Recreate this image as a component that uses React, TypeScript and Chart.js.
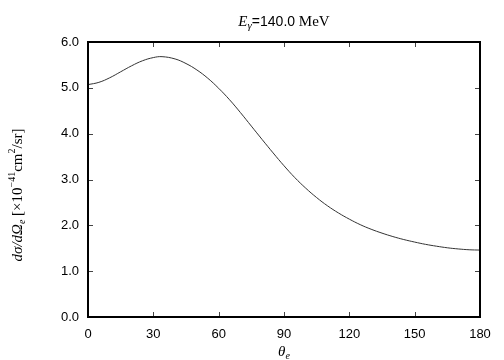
import React, { useEffect, useRef } from "react";
import { Chart, registerables } from "chart.js";

Chart.register(...registerables);

const angles = [0, 5, 10, 15, 20, 25, 30, 34, 40, 45, 50, 55, 60, 65, 70, 75, 80, 85, 90, 95, 100, 105, 110, 115, 120, 125, 130, 135, 140, 145, 150, 155, 160, 165, 170, 175, 180];
const crossSection = [5.07, 5.12, 5.22, 5.35, 5.48, 5.59, 5.66, 5.68, 5.63, 5.53, 5.39, 5.21, 4.99, 4.74, 4.46, 4.165, 3.87, 3.58, 3.3, 3.04, 2.81, 2.605, 2.425, 2.27, 2.135, 2.015, 1.915, 1.83, 1.755, 1.69, 1.635, 1.585, 1.545, 1.51, 1.485, 1.467, 1.46];
const xTicks = [0, 30, 60, 90, 120, 150, 180];
const yTicks = [0, 1, 2, 3, 4, 5, 6];

type Seg = { t: string; font: string; dy?: number };

function drawRich(ctx: CanvasRenderingContext2D, segs: Seg[], cx: number, baseline: number) {
  let total = 0;
  const widths = segs.map((s) => {
    ctx.font = s.font;
    const w = ctx.measureText(s.t).width;
    total += w;
    return w;
  });
  let x = cx - total / 2;
  ctx.textAlign = "left";
  ctx.textBaseline = "alphabetic";
  segs.forEach((s, i) => {
    ctx.font = s.font;
    ctx.fillText(s.t, x, baseline + (s.dy || 0));
    x += widths[i];
  });
}

const SERIF = "'Liberation Serif', 'DejaVu Serif', serif";
const SANS = "'Liberation Sans', Arial, sans-serif";

const decorPlugin = {
  id: "decor",
  afterDraw(chart: any) {
    const ctx: CanvasRenderingContext2D = chart.ctx;
    const { left, right, top, bottom } = chart.chartArea;
    const xs = chart.scales.x;
    const ys = chart.scales.y;
    ctx.save();
    ctx.strokeStyle = "#444";
    ctx.lineWidth = 1;
    const tl = 5;
    ctx.beginPath();
    xTicks.forEach((v) => {
      const px = Math.round(xs.getPixelForValue(v)) + 0.5;
      ctx.moveTo(px, bottom);
      ctx.lineTo(px, bottom - tl);
      ctx.moveTo(px, top);
      ctx.lineTo(px, top + tl);
    });
    yTicks.forEach((v) => {
      const py = Math.round(ys.getPixelForValue(v)) + 0.5;
      ctx.moveTo(left, py);
      ctx.lineTo(left + tl, py);
      ctx.moveTo(right, py);
      ctx.lineTo(right - tl, py);
    });
    ctx.stroke();
    ctx.strokeStyle = "#000";
    ctx.lineWidth = 2;
    ctx.strokeRect(left, top, right - left, bottom - top);

    ctx.fillStyle = "#000";
    drawRich(
      ctx,
      [
        { t: "E", font: `italic 15px ${SERIF}` },
        { t: "γ", font: `italic 11px ${SERIF}`, dy: 3 },
        { t: "=140.0", font: `14px ${SANS}` },
        { t: " MeV", font: `15px ${SERIF}` },
      ],
      (left + right) / 2,
      26
    );
    drawRich(
      ctx,
      [
        { t: "θ", font: `italic 15px ${SERIF}` },
        { t: "e", font: `italic 10px ${SERIF}`, dy: 3 },
      ],
      (left + right) / 2,
      356
    );
    ctx.translate(22, 195);
    ctx.rotate(-Math.PI / 2);
    drawRich(
      ctx,
      [
        { t: "dσ/dΩ", font: `italic 15px ${SERIF}` },
        { t: "e", font: `italic 10px ${SERIF}`, dy: 3 },
        { t: " [×10", font: `15px ${SERIF}` },
        { t: "−41", font: `10px ${SERIF}`, dy: -7 },
        { t: "cm", font: `15px ${SERIF}` },
        { t: "2", font: `10px ${SERIF}`, dy: -7 },
        { t: "/sr]", font: `15px ${SERIF}` },
      ],
      0,
      0
    );
    ctx.restore();
  },
};

export default function App() {
  const ref = useRef<HTMLCanvasElement>(null);
  useEffect(() => {
    if (!ref.current) return;
    const chart = new Chart(ref.current, {
      type: "line",
      data: {
        datasets: [
          {
            data: angles.map((a, i) => ({ x: a, y: crossSection[i] })),
            borderColor: "#333",
            borderWidth: 1,
            pointRadius: 0,
            tension: 0.4,
            fill: false,
          },
        ],
      },
      options: {
        responsive: false,
        animation: false,
        layout: { padding: { left: 0, right: 24, top: 42, bottom: 0 } },
        plugins: { legend: { display: false }, tooltip: { enabled: false }, title: { display: false } },
        scales: {
          x: {
            type: "linear",
            min: 0,
            max: 180,
            afterBuildTicks: (s: any) => {
              s.ticks = xTicks.map((v) => ({ value: v }));
            },
            grid: { display: false },
            border: { display: false },
            ticks: { color: "#000", font: { family: SANS, size: 13 }, padding: 2, maxRotation: 0 },
            afterFit: (s: any) => {
              s.height = 43;
            },
          },
          y: {
            min: 0,
            max: 6,
            afterBuildTicks: (s: any) => {
              s.ticks = yTicks.map((v) => ({ value: v }));
            },
            grid: { display: false },
            border: { display: false },
            ticks: {
              color: "#000",
              font: { family: SANS, size: 13 },
              padding: 1,
              callback: (v: any) => Number(v).toFixed(1),
            },
            afterFit: (s: any) => {
              s.width = 88;
            },
          },
        },
      },
      plugins: [decorPlugin],
    } as any);
    return () => chart.destroy();
  }, []);
  return (
    <div style={{ position: "absolute", left: 0, top: 0, width: 504, height: 360, background: "#fff" }}>
      <canvas ref={ref} width={504} height={360} />
    </div>
  );
}
